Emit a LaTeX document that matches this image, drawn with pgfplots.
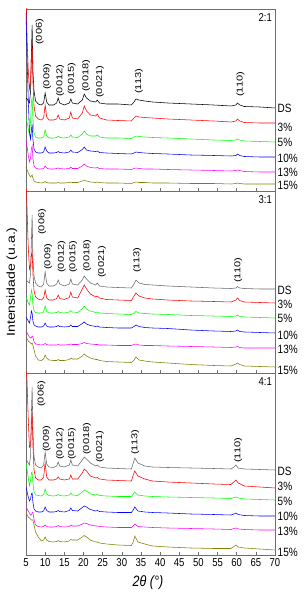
\documentclass[border=0pt]{standalone}
\usepackage{fontspec}
\setmainfont{Liberation Sans}
\usepackage{graphicx}
\usepackage{pgfplots}
\usepackage{pgfplotstable}
\pgfplotsset{compat=1.18}
\definecolor{dsgray}{RGB}{105,105,105}
\definecolor{olv}{RGB}{128,128,0}
\definecolor{grn}{RGB}{0,255,0}
\definecolor{mag}{RGB}{255,0,255}
\definecolor{frame}{RGB}{110,110,110}

% panel 2:1
\pgfplotstableread{
x ds a b c d e
5.0 93 200 73 178 50 24
5.3 92 150 68 130 44 21
5.6 90 120 62 90 36 18
5.9 88 102 56 60 29 16
6.2 100 110 70 52 33 14
6.4 135 135 88 60 42 15
6.6 166 148 94 67 45 16
6.8 120 110 72 52 33 13
7.1 100 85 58 42 25 10
7.5 90 75 54 39 23 9
8.2 87 72 53 38 22 8.5
9.0 86 71 53 38 22 8
9.6 88 73 54 39 22.5 8.5
10.0 98 86 61 44 25 9.5
10.4 89 74 55 40 23 8.5
11.0 86 71 53 38 22 8
12.2 86 71 53 38 22 8
13.0 88 72 53.5 38.5 22.5 8
13.4 93 76 55 39.5 23 8.5
13.8 88 72 53.5 38.5 22.5 8
15.0 86 71 53 38 22 8
16.3 88 73 54 39 22.5 8.5
16.7 92 79 56 41 24 9
17.1 88 73 54 39 22.5 8.5
18.5 87 72 53.5 38.5 22.5 8.5
19.7 91 78 57 41.5 25 10
20.2 97 85 60 44 27 10.5
20.8 93 80 57 41 25 10
21.8 90 76 55 40 23.5 9
23.2 89 75 55 39.5 23 8.5
23.6 91 77 56 40 23.5 9
24.2 88 73 54 38.5 22.5 8.5
26 87 71 53 38 22 8
29 87 70.5 53 37.5 22 8
32.5 86 70 52.5 37 21.5 7.5
33.2 89 73 54 38 22.5 8.5
33.7 92 75 55 39 23 9
34.5 91 74 54.5 38.5 22.5 8.5
36 90 73.5 54 38 22 8.5
38 89 73 53.5 37.5 22 8
42 88 72 53 37 21.5 8
48 87 71 52 36 21 7.5
54 86 70 51 35.5 20.5 7.5
58.5 85 69 50.5 35 20 7
59.8 86 70 51 35.5 20.5 7.5
60.2 88 72 52 37 21 8
60.8 86 70 51 35.5 20.5 7.5
62 84.5 68.5 50 34.5 19.5 7
66 84 68 49.5 34 19 7
70 83 68 49 34 19 7
}\tabA

% panel 3:1
\pgfplotstableread{
x ds a b c d e
5.0 93 200 76 56 42 36
5.3 92 160 73 54 40 34
5.6 91 125 70 52 38 32
5.9 90 104 68 50 36 31
6.2 100 108 76 56 35 30
6.4 130 118 83 62 35 29
6.6 158 121 80 60 37 30
6.8 115 100 68 52 36 28
7.1 97 82 62 48 31 23
7.5 90 76 60.5 47 29 17
8.2 87 74 60 46 28.5 13
9.0 86 73 60 46 28 12.5
9.6 89 75 61 47 28.5 14
10.0 101 83 67 50 29.5 18
10.4 90 75 61.5 47 28.5 15
11.0 87 73 60 46 28 13
12.2 87 73 60 46 28 12.5
13.0 89 74.5 60.5 46.5 28 12.5
13.4 93 78 61.5 47.5 28.5 13.5
13.8 89 74.5 60.5 46.5 28 12.5
15.0 87 73.5 60 46 28 12.5
16.3 89 75.5 61 46.5 28.5 13.5
16.7 94 81 62.5 48 29 15
17.1 89 76 61 46.5 28.5 14
18.5 88 75 60.5 46.5 28.5 14
19.7 93 84 64.5 49.5 29.5 17
20.2 97 88 67 51 30.5 19
20.8 94 84 64 49 29.5 17
21.8 90 79 62 47.5 29 15
23.2 88 76 60.5 46.5 28.5 13.5
23.6 90 77 61 47 28.5 13.5
24.2 87 75 60 46 28 12.5
26 86 73.5 59.5 45.5 28 11.5
29 85.5 73 59 45 27.5 11
32.5 85 72.5 58.5 45 27.5 10.5
33.2 89 77 60 46.5 28.5 13
33.7 93 80 61.5 48 29 16
34.5 90 77 60 46.5 28 13
36 88.5 75 59.5 45.5 27.5 12
38 88 74 59 45 27.5 11
42 87 73 58.5 44.5 27 10
48 86 72 57.5 43 26.5 8.5
54 85 71.5 57 42 26 7.5
58.5 84.5 71 56.5 41.5 25.5 7
59.8 85 73 57 42 26 9
60.2 86.5 75 58 43 26.5 10
60.8 85 72.5 56.5 41.5 25.5 8.5
62 84.5 71 56 41 25 7
66 84 70.5 55.5 40.5 25 6.5
70 84 70 55 40 25 6
}\tabB

% panel 4:1
\pgfplotstableread{
x ds a b c d e
5.0 95 200 92 68 48 42
5.3 94 170 85 63 46 40
5.6 92 135 77 58 44 38
5.9 90 108 69 54 42 37
6.2 100 110 75 56 40 36
6.4 140 130 82 61 40 35
6.6 168 142 83 62 42 35
6.8 125 110 72 53 43 35
7.1 98 85 63 46 35 30
7.5 90 77 60 44 30 23
8.2 88 75 59.5 43 28.5 18
9.0 87 75 59 43 28 14
9.6 90 78 60.5 44 28.5 15
10.0 103 92 66 48 30 18
10.4 91 78 61 44.5 28.5 15
11.0 88 75 59.5 43 28 13.5
12.2 87.5 75 59 43 28 13
13.0 89 76 59.5 43.5 28.5 13.5
13.4 93 78 60.5 44.5 29.5 14.5
13.8 89 76 59.5 43.5 28.5 13.5
15.0 88 75 59 43 28 13
16.3 90 76 60 44.5 28.5 14
16.7 95 80 62 47 30 15.5
17.1 90 76 60 44.5 29 15
18.5 89 76 59.5 44 29 15
19.7 95 82 63 47.5 31 18
20.2 98 86 65 49 32 19.5
20.8 96 84 64 48 31.5 18
21.8 92 79 61 45.5 30 15
23.2 89 77 60 44 29 13
23.6 90 77.5 60.5 44.5 29 13
24.2 88 76 59.5 43.5 28.5 12
26 87 75 59 43 28 11
29 86.5 74.5 58.5 42.5 27.5 10
32.5 86 74 58.5 42.5 27.5 9.5
33.0 92 80 61 45 29 13
33.4 97 84 63 48 31 19
34.2 92 79 60 44 28.5 13
36 89 76 59 43 28 11
38 88 74 58.5 42.5 27.5 9
42 87.5 73 58 42 27 8
48 87 72 57.5 41 26.5 7
54 86.5 71 57 40.5 26 6.5
58.5 86 70.5 56.5 40 25.5 6.5
59.3 88 73 57.5 41 26.5 8.5
59.8 90 75 58 42 27 10
60.4 87 72 57 40.5 26 8
62 86 69 56 39.5 25.5 7
66 85.5 68 55.5 39 25 6
70 85 67 55 39 25 5
}\tabC

\newcommand{\vs}[1]{\scalebox{1}[1.2]{#1}}
\pgfplotsset{panel/.style={
  scale only axis, width=249pt, height=182pt,
  xmin=5, xmax=70, ymin=0, ymax=182,
  ytick=\empty, xtick={5,10,...,70}, xtick pos=bottom,
  tick align=inside, major tick length=3pt,
  axis line style={frame, line width=0.7pt},
  tick style={frame, line width=0.5pt},
  clip mode=individual,
  /pgf/number format/assume math mode=true,
  ticklabel style={font=\fontsize{9.5}{10}\selectfont},
  every axis plot/.append style={line width=0.55pt, no markers},
}}
\newcommand{\pk}[3]{\node[rotate=90,anchor=west,inner sep=0pt,font=\fontsize{8.5}{9}\selectfont] at (axis cs:#1,#2) {\scalebox{1.3}[1]{#3}};}
\newcommand{\lab}[2]{\node[anchor=west,inner sep=0pt,font=\fontsize{10}{11}\selectfont] at (axis cs:70,#1) [xshift=2.5pt] {\vs{#2}};}
\newcommand{\ttl}[1]{\node[anchor=east,inner sep=0pt,font=\fontsize{9.5}{10}\selectfont] at (axis cs:70,173) [xshift=-3pt] {\vs{#1}};}

\begin{document}
\begin{tikzpicture}
\useasboundingbox (-26pt,-42pt) rectangle (280pt,555pt);
% top panel 2:1
\begin{axis}[panel, at={(0pt,364pt)}, xticklabels={}]
\addplot[black] table[x=x,y=ds]{\tabA};
\addplot[red] table[x=x,y=a]{\tabA};
\addplot[grn] table[x=x,y=b]{\tabA};
\addplot[blue] table[x=x,y=c]{\tabA};
\addplot[mag] table[x=x,y=d]{\tabA};
\addplot[olv] table[x=x,y=e]{\tabA};
\pk{8.6}{146}{(006)}
\pk{10.5}{101}{(009)}
\pk{13.9}{94}{(0012)}
\pk{16.9}{96}{(0015)}
\pk{20.7}{99}{(0018)}
\pk{24.3}{93}{(0021)}
\pk{34.5}{97}{(113)}
\pk{61.0}{94}{(110)}
\lab{83}{DS}
\lab{64}{3\%}
\lab{49}{5\%}
\lab{33}{10\%}
\lab{19}{13\%}
\lab{6}{15\%}
\ttl{2:1}
\end{axis}
% middle panel 3:1
\begin{axis}[panel, at={(0pt,182pt)}, xticklabels={}]
\addplot[dsgray] table[x=x,y=ds]{\tabB};
\addplot[red] table[x=x,y=a]{\tabB};
\addplot[grn] table[x=x,y=b]{\tabB};
\addplot[blue] table[x=x,y=c]{\tabB};
\addplot[mag] table[x=x,y=d]{\tabB};
\addplot[olv] table[x=x,y=e]{\tabB};
\pk{9.2}{138}{(006)}
\pk{10.8}{103}{(009)}
\pk{14.3}{100}{(0012)}
\pk{17.3}{100}{(0015)}
\pk{21.0}{101}{(0018)}
\pk{24.8}{95}{(0021)}
\pk{34.0}{100}{(113)}
\pk{60.4}{90}{(110)}
\lab{83}{DS}
\lab{69}{3\%}
\lab{55}{5\%}
\lab{38}{10\%}
\lab{24}{13\%}
\lab{3}{15\%}
\ttl{3:1}
\end{axis}
% bottom panel 4:1
\begin{axis}[panel, at={(0pt,0pt)}, xticklabel={\vs{\pgfmathprintnumber{\tick}}}]
\addplot[dsgray] table[x=x,y=ds]{\tabC};
\addplot[red] table[x=x,y=a]{\tabC};
\addplot[grn] table[x=x,y=b]{\tabC};
\addplot[blue] table[x=x,y=c]{\tabC};
\addplot[mag] table[x=x,y=d]{\tabC};
\addplot[olv] table[x=x,y=e]{\tabC};
\pk{9.0}{148}{(006)}
\pk{10.4}{103}{(009)}
\pk{13.9}{95}{(0012)}
\pk{17.0}{95}{(0015)}
\pk{20.9}{100}{(0018)}
\pk{24.3}{92}{(0021)}
\pk{33.5}{100}{(113)}
\pk{60.4}{92}{(110)}
\lab{84}{DS}
\lab{69}{3\%}
\lab{54}{5\%}
\lab{39}{10\%}
\lab{24}{13\%}
\lab{3}{15\%}
\ttl{4:1}
\end{axis}
\node[rotate=90,inner sep=0pt,font=\fontsize{11.5}{12}\selectfont] at (-14pt,273pt) {\scalebox{1.22}[1]{Intensidade (u.a.)}};
\node[inner sep=0pt,font=\fontsize{12.5}{13}\selectfont] at (122pt,-28pt) {\vs{\textit{2θ (°)}}};
\end{tikzpicture}
\end{document}
